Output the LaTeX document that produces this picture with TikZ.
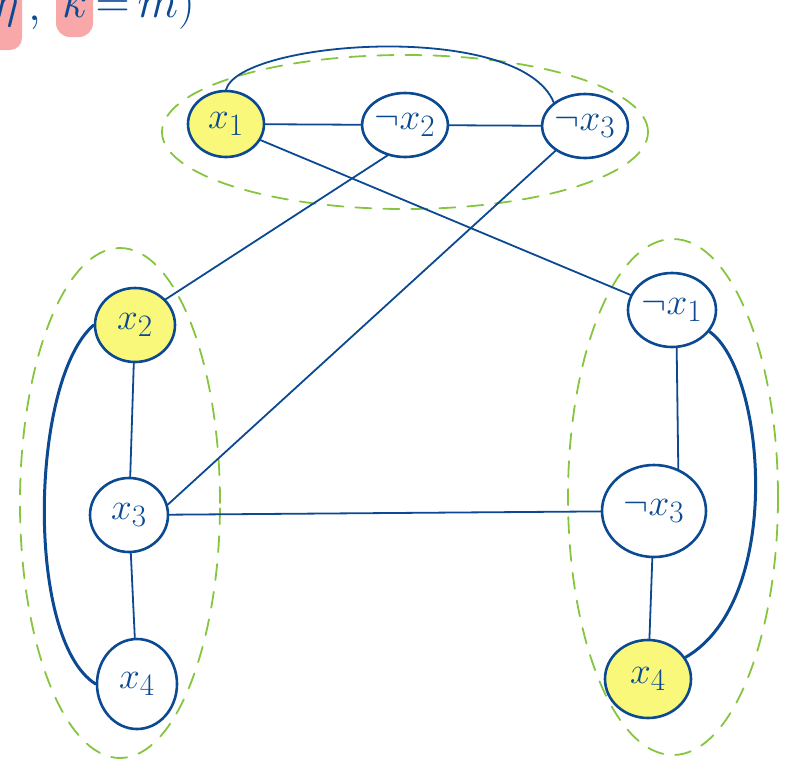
\documentclass[tikz,border=0pt]{standalone}
\usetikzlibrary{shapes.geometric}
\definecolor{inkblue}{HTML}{0B4A92}
\definecolor{dashgreen}{HTML}{86C540}
\definecolor{hiyellow}{HTML}{FAF87A}
\definecolor{hipink}{HTML}{F8A8A8}
\newcommand{\littext}[1]{\scalebox{1.5}{$#1$}}
\newcommand{\bigtext}[1]{\scalebox{1.9}{$#1$}}
\tikzset{
  lit/.style={ellipse, draw=inkblue, line width=2.6pt, inner sep=0pt, text=inkblue,
    font=\Huge},
  hilit/.style={lit, fill=hiyellow},
  edge/.style={draw=inkblue, line width=1.8pt, line cap=round},
  thickedge/.style={edge, line width=3pt},
  group/.style={draw=dashgreen, line width=1.8pt, dash pattern=on 16pt off 12pt, line cap=round},
  hand/.style={text=inkblue, font=\Huge, inner sep=0pt, anchor=base west}
}
\begin{document}
\begin{tikzpicture}[x=1pt,y=-1pt]
\useasboundingbox (0,0) rectangle (793,764);
\clip (0,0) rectangle (793,764);
% top-left partial text
\fill[hipink, rounded corners=12pt] (-15,-20) rectangle (22,50);
\fill[hipink, rounded corners=14pt] (56,-20) rectangle (93,37);
\node[hand] (t1) at (-6,17) {\bigtext{\eta}};
\node[hand] (t2) at (28,20) {\bigtext{,}};
\node[hand] (t3) at (62,17) {\bigtext{k\,{=}\,m)}};
% groups
\node[group, ellipse, minimum width=486pt, minimum height=154pt] (g1) at (405,132) {};
\node[group, ellipse, minimum width=200pt, minimum height=510pt] (g2) at (120,503) {};
\node[group, ellipse, minimum width=210pt, minimum height=516pt] (g3) at (673,497) {};
% literals
\node[hilit, minimum width=76pt, minimum height=66pt] (x1) at (226,124) {\littext{x_1}};
\node[lit, minimum width=75pt, minimum height=64pt] (nx2) at (405,125) {\littext{\neg x_2}};
\node[lit, minimum width=80pt, minimum height=64pt] (nx3) at (585,126) {\littext{\neg x_3}};
\node[hilit, minimum width=80pt, minimum height=74pt] (x2l) at (135,325) {\littext{x_2}};
\node[lit, minimum width=78pt, minimum height=74pt] (x3l) at (129,515) {\littext{x_3}};
\node[lit, minimum width=80pt, minimum height=90pt] (x4l) at (137,684) {\littext{x_4}};
\node[lit, minimum width=88pt, minimum height=74pt] (nx1r) at (672,310) {\littext{\neg x_1}};
\node[lit, minimum width=104pt, minimum height=92pt] (nx3r) at (654,511) {\littext{\neg x_3}};
\node[hilit, minimum width=86pt, minimum height=78pt] (x4r) at (648,679) {\littext{x_4}};
% edges
\draw[edge] (x1) -- (nx2);
\draw[edge] (nx2) -- (nx3);
\draw[edge] (x1.north) .. controls (240,40) and (520,20) .. (nx3.north west);
\draw[edge] (x1.-25) -- (nx1r.160);
\draw[edge] (nx2.-120) -- (x2l.40);
\draw[edge] (nx3.-140) -- (x3l.15);
\draw[edge] (x3l) -- (nx3r);
\draw[edge] (x2l) -- (x3l);
\draw[edge] (x3l) -- (x4l);
\draw[thickedge] (x2l.west) .. controls (30,380) and (25,640) .. (x4l.west);
\draw[edge] (nx1r.-83) -- (nx3r.60);
\draw[edge] (nx3r) -- (x4r);
\draw[thickedge] (nx1r.-30) .. controls (765,370) and (785,600) .. (x4r.30);
\end{tikzpicture}
\end{document}
